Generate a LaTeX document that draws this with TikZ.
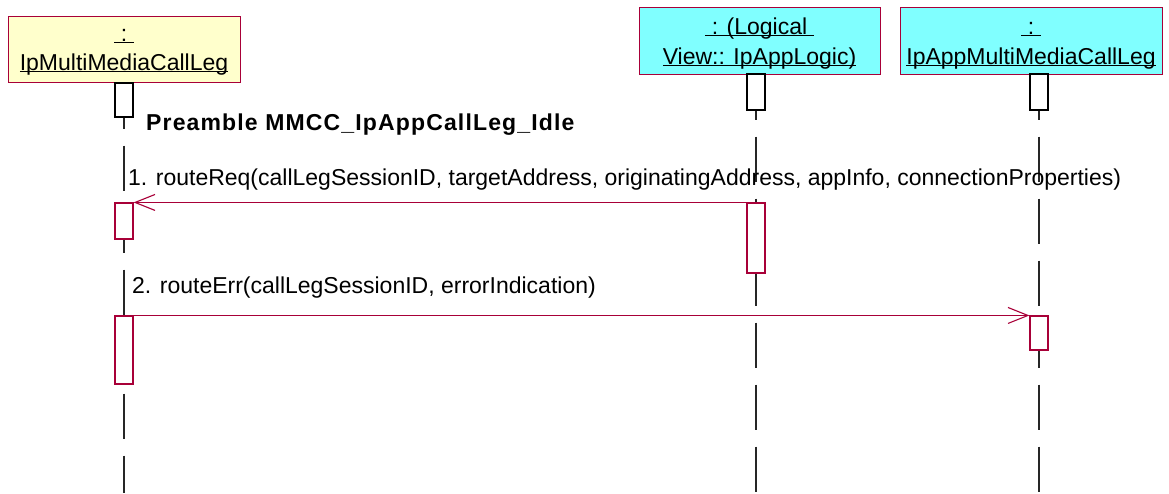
\documentclass[tikz,border=0pt]{standalone}
\usepackage{fontspec}
\setmainfont{Liberation Sans}
\newfontfamily\preamblefont[LetterSpace=5]{Liberation Sans}
\usepackage{tikz}
\usetikzlibrary{arrows.meta}
\definecolor{umlred}{RGB}{168,0,56}
\definecolor{umlyellow}{RGB}{255,255,204}
\definecolor{umlcyan}{RGB}{128,255,255}
\newcommand{\objul}[1]{\underline{\smash{#1}}}

\begin{document}
\begin{tikzpicture}[x=1pt, y=-1pt,
    objbox/.style={draw=umlred, line width=1pt, inner sep=0pt},
    objtext/.style={anchor=base, inner sep=0pt, font=\fontsize{23}{28}\selectfont},
    actbox/.style={draw=umlred, fill=white, line width=1.1pt, minimum width=18pt, inner sep=0pt},
    lifeline/.style={black!85, line width=1.2pt, dash pattern=on 45pt off 17pt},
    msg/.style={umlred, line width=1.1pt, -{Straight Barb[length=20pt, width=16pt]}},
    msglabel/.style={anchor=base west, inner sep=0pt, font=\fontsize{23}{28}\selectfont}]
    \useasboundingbox (0,0) rectangle (1169,493);

    % ===== Objects =====
    \node[objbox, fill=umlyellow, minimum width=232pt, minimum height=66pt] (legobj) at (124,49) {};
    \node[objtext] (legname1) at (124,41) {\objul{~:~}};
    \node[objtext] (legname2) at (124,70) {\objul{IpMultiMediaCallLeg}};

    \node[objbox, fill=umlcyan, minimum width=241pt, minimum height=67pt] (logobj) at (759.5,40.5) {};
    \node[objtext] (logname1) at (759.5,34) {\objul{~: (Logical~}};
    \node[objtext] (logname2) at (759.5,64) {\objul{View:: IpAppLogic)}};

    \node[objbox, fill=umlcyan, minimum width=262pt, minimum height=67pt] (appobj) at (1031,40.5) {};
    \node[objtext] (appname1) at (1031,34) {\objul{~:~}};
    \node[objtext] (appname2) at (1031,64) {\objul{IpAppMultiMediaCallLeg}};

    % ===== Lifelines =====
    \node[actbox, draw=black, minimum height=34pt] (legtop) at (124,100) {};
    \node[actbox, draw=black, minimum height=36pt] (logtop) at (756,92) {};
    \node[actbox, draw=black, minimum height=36pt] (apptop) at (1039,92) {};
    \coordinate (legend) at (124,493);
    \coordinate (logend) at (756,493);
    \coordinate (append) at (1039,493);
    \draw[lifeline, dash phase=34pt] (legtop.south) -- (legend);
    \draw[lifeline, dash phase=36pt] (logtop.south) -- (logend);
    \draw[lifeline, dash phase=36pt] (apptop.south) -- (append);

    % ===== Activations =====
    \node[actbox, minimum height=36pt] (legact1) at (124,221) {};
    \node[actbox, minimum height=70pt] (logact1) at (756,238) {};
    \node[actbox, minimum height=68pt] (legact2) at (124,350) {};
    \node[actbox, minimum height=34pt] (appact2) at (1039,333) {};

    % ===== Messages =====
    \node[msglabel, font=\preamblefont\fontsize{23}{28}\selectfont\bfseries] (preamble) at (146,130) {Preamble MMCC\_IpAppCallLeg\_Idle};
    \draw[msg] (logact1.north west) -- (legact1.north east);
    \node[msglabel] (msg1) at (128,185) {1. routeReq(callLegSessionID, targetAddress, originatingAddress, appInfo, connectionProperties)};
    \draw[msg] (legact2.north east) -- (appact2.north west);
    \node[msglabel] (msg2) at (132,293) {2. routeErr(callLegSessionID, errorIndication)};
\end{tikzpicture}
\end{document}
